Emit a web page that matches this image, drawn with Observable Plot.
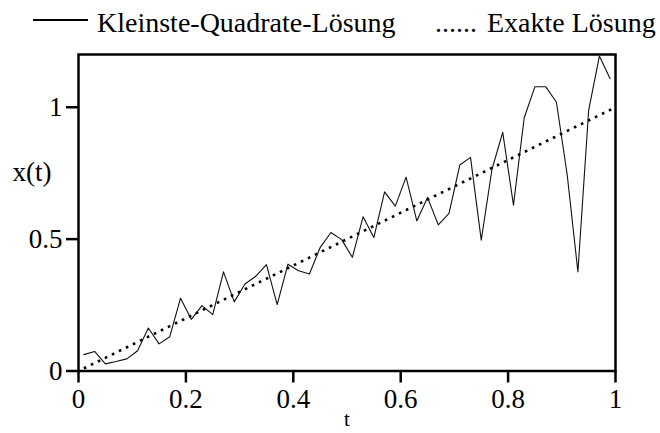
<!DOCTYPE html>
<html>
<head>
<meta charset="utf-8">
<script src="https://cdn.jsdelivr.net/npm/d3@7"></script>
<script src="https://cdn.jsdelivr.net/npm/@observablehq/plot@0.6"></script>
<style>
  html, body { margin: 0; padding: 0; background: white; }
  #wrap { width: 660px; height: 433px; position: relative; overflow: hidden; }
  #legend { position: relative; height: 40px; width: 660px; font-family: "Liberation Serif", "DejaVu Serif", "Noto Serif", Tinos, "Nimbus Roman", "Nimbus Roman No9 L", FreeSerif, "Times New Roman", Times, Georgia, serif; font-size: 28px; line-height: 1; color: black; }
  #legend span { position: absolute; top: 9px; white-space: nowrap; }
  #legend #lg1sym { top: 19px; left: 33px; width: 55px; height: 0; border-top: 2px solid black; }
</style>
</head>
<body>
<div id="wrap">
  <div id="legend">
    <span id="lg1sym"></span>
    <span id="lg1" style="left:97px"></span>
    <span id="lg2sym" style="left:435px">......</span>
    <span id="lg2" style="left:487px"></span>
  </div>
  <div id="chart"></div>
</div>
<script>
const seriesNames = ["Kleinste-Quadrate-Lösung", "Exakte Lösung"];
const xLabel = "t";
const yLabel = "x(t)";
const xTicks = [0, 0.2, 0.4, 0.6, 0.8, 1];
const yTicks = [0, 0.5, 1];

const lsT = [0.01, 0.03, 0.05, 0.07, 0.09, 0.11, 0.13, 0.15, 0.17, 0.19,
             0.21, 0.23, 0.25, 0.27, 0.29, 0.31, 0.33, 0.35, 0.37, 0.39,
             0.41, 0.43, 0.45, 0.47, 0.49, 0.51, 0.53, 0.55, 0.57, 0.59,
             0.61, 0.63, 0.65, 0.67, 0.69, 0.71, 0.73, 0.75, 0.77, 0.79,
             0.81, 0.83, 0.85, 0.87, 0.89, 0.91, 0.93, 0.95, 0.97, 0.99];
const lsX = [0.062, 0.074, 0.027, 0.036, 0.046, 0.077, 0.163, 0.103, 0.130, 0.276,
             0.196, 0.248, 0.214, 0.376, 0.262, 0.330, 0.359, 0.403, 0.252, 0.405,
             0.380, 0.368, 0.468, 0.525, 0.498, 0.431, 0.585, 0.506, 0.679, 0.625,
             0.735, 0.569, 0.658, 0.554, 0.598, 0.781, 0.810, 0.496, 0.765, 0.905,
             0.629, 0.960, 1.078, 1.078, 1.019, 0.745, 0.376, 0.988, 1.194, 1.108];
const exactT = [0.01, 1];
const exactX = [0.01, 1];

document.getElementById("lg1").textContent = seriesNames[0];
document.getElementById("lg2").textContent = seriesNames[1];

const lsData = lsT.map((t, i) => ({t, x: lsX[i]}));
const exactData = exactT.map((t, i) => ({t, x: exactX[i]}));

const fmt = d => String(d);
const serif = "'Liberation Serif', 'DejaVu Serif', 'Noto Serif', Tinos, 'Nimbus Roman', 'Nimbus Roman No9 L', FreeSerif, 'Times New Roman', Times, Georgia, serif";

const chart = Plot.plot({
  width: 660,
  height: 393,
  marginLeft: 78,
  marginRight: 45,
  marginTop: 14,
  marginBottom: 62.5,
  x: {domain: [0, 1]},
  y: {domain: [0, 1.2]},
  style: {fontFamily: serif, fontSize: "27px", color: "black", background: "white"},
  marks: [
    Plot.line(exactData, {x: "t", y: "x", stroke: "black", strokeWidth: 2.6, strokeDasharray: "2.6,5.2", strokeLinecap: "butt"}),
    Plot.line(lsData, {x: "t", y: "x", stroke: "#111", strokeWidth: 1.1}),
    Plot.frame({stroke: "black", strokeWidth: 2.5}),
    Plot.axisX({ticks: xTicks, tickFormat: fmt, tickSize: 12, tickPadding: 6, strokeWidth: 2.5, label: null, fontSize: 27, fontFamily: serif}),
    Plot.axisY({ticks: yTicks, tickFormat: fmt, tickSize: 12, tickPadding: 4, strokeWidth: 2.5, label: null, fontSize: 27, fontFamily: serif}),
    Plot.text([yLabel], {text: d => d, frameAnchor: "top-left", dx: -66, dy: 118, textAnchor: "start", lineAnchor: "middle", fontSize: 27, fontFamily: serif}),
    Plot.text([xLabel], {text: d => d, frameAnchor: "bottom", dy: 55, lineAnchor: "bottom", fontSize: 21, fontFamily: serif})
  ]
});
document.getElementById("chart").appendChild(chart);
</script>
</body>
</html>
